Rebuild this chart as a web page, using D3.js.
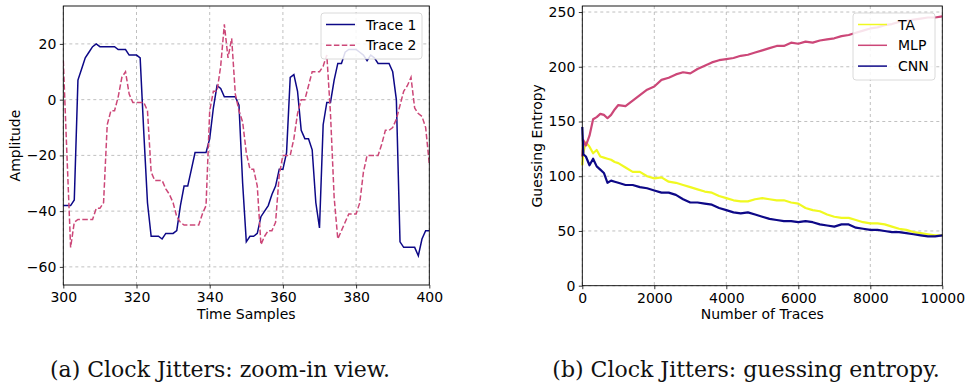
<!DOCTYPE html>
<html>
<head>
<meta charset="utf-8">
<script src="https://cdn.jsdelivr.net/npm/d3@7"></script>
<style>
  html, body { margin: 0; padding: 0; background: #fff; }
  svg { display: block; }
  text { font-family: "DejaVu Sans", sans-serif; }
</style>
</head>
<body>
<div id="chart"></div>
<script>
// two panels: zoom-in of two traces, and guessing entropy vs traces

// (a) sample values, sample index 300..400
const sampleStart = 300;
const trace1 = [
  -38, -38, -38, -36, 7, 11, 15, 17, 19, 20,
  19, 19, 19, 19, 19, 18, 18, 18, 16, 16,
  16, 15, -12, -37, -49, -49, -49, -50, -48, -48,
  -48, -47, -38, -31, -31, -25, -19, -19, -19, -19,
  -14, -3, 5, 4, 1, 1, 1, 1, -2, -30,
  -51, -49, -49, -48, -42, -40, -38, -34, -31, -25,
  -25, -19, 8, 9, 3, -11, -14, -14, -18, -37,
  -46, -9, -1, -1, 7, 13, 13, 17, 18, 18,
  18, 17, 16, 14, 16, 15, 13, 13, 13, 13,
  10, 0, -51, -53, -53, -53, -53, -56, -50, -47,
  -47
];
const trace2 = [
  14, -20, -53, -44, -43, -43, -43, -43, -43, -39,
  -39, -37, -9, -4, -4, 1, 8, 10, 2, -1,
  -1, -1, -1, -4, -26, -29, -29, -29, -32, -34,
  -37, -42, -44, -45, -45, -45, -45, -45, -41, -38,
  -4, 3, 3, 12, 27, 15, 22, 2, -4, -8,
  -19, -25, -25, -31, -52, -49, -47, -47, -44, -27,
  -20, -20, -20, -14, -5, 0, 0, 5, 10, 10,
  10, 12, 16, -5, -35, -50, -47, -44, -41, -41,
  -41, -37, -26, -20, -20, -20, -20, -16, -11, -11,
  -10, -7, -2, 3, 5, 8, -3, -5, -6, -10,
  -23
];
const ampTicks = [-60, -40, -20, 0, 20];
const sampleTicks = [300, 320, 340, 360, 380, 400];

// (b) guessing entropy
const nTraces = [
  0, 30, 100, 200, 300, 400, 500, 600, 700, 800, 900, 1000,
  1200, 1400, 1600, 1800, 2000, 2200, 2400, 2600, 2800, 3000,
  3200, 3400, 3600, 3800, 4000, 4200, 4400, 4600, 4800, 5000,
  5200, 5400, 5600, 5800, 6000, 6200, 6400, 6600, 6800, 7000,
  7200, 7400, 7600, 7800, 8000, 8200, 8400, 8600, 8800, 9000,
  9200, 9400, 9600, 9800, 10000
];
const geTA = [
  110, 122, 131, 127, 121, 124, 118, 117, 116, 115, 113, 112,
  108, 104, 104, 100, 98, 99, 95, 94, 92, 90,
  88, 86, 85, 82, 80, 78, 77, 77, 79, 80,
  79, 78, 78, 76, 75, 71, 69, 68, 65, 63,
  62, 62, 60, 58, 57, 57, 56, 54, 52, 51,
  49, 48, 47, 46, 46
];
const geMLP = [
  118, 133, 128, 137, 152, 154, 157, 156, 153, 156, 161, 165,
  164, 169, 174, 179, 182, 188, 190, 193, 195, 194,
  198, 201, 204, 206, 207, 208, 210, 211, 213, 215,
  217, 219, 219, 222, 221, 223, 222, 224, 225, 226,
  228, 229, 231, 233, 235, 236, 238, 239, 241, 242,
  243, 244, 245, 245, 246
];
const geCNN = [
  145, 120, 118, 110, 116, 109, 106, 103, 94, 96, 95, 94,
  92, 92, 90, 89, 87, 85, 85, 83, 79, 76,
  76, 75, 74, 71, 69, 67, 66, 67, 65, 63,
  61, 60, 59, 59, 58, 59, 58, 56, 55, 54,
  56, 56, 53, 52, 51, 51, 50, 49, 49, 48,
  47, 46, 45, 45, 46
];
const geTicks = [0, 50, 100, 150, 200, 250];
const traceTicks = [0, 2000, 4000, 6000, 8000, 10000];

const captions = ["(a) Clock Jitters: zoom-in view.", "(b) Clock Jitters: guessing entropy."];

// plasma-ish colours, like the original
const C_NAVY = "#0d0887";
const C_PINK = "#cc4778";
const C_YEL  = "#f0f921";

const W = 967, H = 385;
const FS = 14;

const svg = d3.select("#chart").append("svg")
  .attr("width", W)
  .attr("height", H);

function drawAxes(g, x, y, xt, yt, w, h) {
  // grid first, dashed
  g.append("g").selectAll("line.gx")
    .data(xt)
    .join("line")
    .attr("x1", d => x(d)).attr("x2", d => x(d))
    .attr("y1", 0).attr("y2", h)
    .attr("stroke", "#b0b0b0").attr("stroke-width", 0.8)
    .attr("stroke-dasharray", "3,3");
  g.append("g").selectAll("line.gy")
    .data(yt)
    .join("line")
    .attr("y1", d => y(d)).attr("y2", d => y(d))
    .attr("x1", 0).attr("x2", w)
    .attr("stroke", "#b0b0b0").attr("stroke-width", 0.8)
    .attr("stroke-dasharray", "3,3");
}

function finishAxes(g, x, y, xt, yt, w, h, xfmt) {
  const ax = g.append("g")
    .attr("transform", `translate(0,${h})`)
    .call(d3.axisBottom(x).tickValues(xt).tickSize(3.5).tickPadding(3.5).tickFormat(xfmt));
  const ay = g.append("g")
    .call(d3.axisLeft(y).tickValues(yt).tickSize(3.5).tickPadding(3.5)
      .tickFormat(d => d < 0 ? "\u2212" + Math.abs(d) : d));
  [ax, ay].forEach(a => {
    a.select(".domain").remove();
    a.selectAll("text")
      .attr("font-family", "DejaVu Sans")
      .attr("font-size", FS)
      .attr("fill", "#000");
    a.selectAll("line").attr("stroke", "#000").attr("stroke-width", 0.8);
  });
  // spines
  g.append("rect")
    .attr("x", 0).attr("y", 0)
    .attr("width", w).attr("height", h)
    .attr("fill", "none")
    .attr("stroke", "#000")
    .attr("stroke-width", 0.9);
}

function legend(g, x0, y0, bw, bh, items) {
  const lg = g.append("g").attr("transform", `translate(${x0},${y0})`);
  lg.append("rect")
    .attr("width", bw).attr("height", bh)
    .attr("rx", 3)
    .attr("fill", "#fff").attr("fill-opacity", 0.85)
    .attr("stroke", "#d0d0d0").attr("stroke-width", 0.8);
  items.forEach((it, i) => {
    const yy = 11.5 + i * 20.8;
    lg.append("line")
      .attr("x1", 5).attr("x2", 34)
      .attr("y1", yy).attr("y2", yy)
      .attr("stroke", it.color).attr("stroke-width", 1.5)
      .attr("stroke-dasharray", it.dash || null);
    lg.append("text")
      .attr("x", 45).attr("y", yy + 5)
      .attr("font-size", FS)
      .text(it.label);
  });
}

// ---- panel (a)
{
  const left = 63.3, top = 6, w = 366, h = 279;
  const g = svg.append("g").attr("transform", `translate(${left},${top})`);
  const x = d3.scaleLinear().domain([300, 400]).range([0, w]);
  const y = d3.scaleLinear().domain([-66.5, 33.6]).range([h, 0]);

  drawAxes(g, x, y, sampleTicks, ampTicks, w, h);

  const line = d3.line()
    .x((d, i) => x(sampleStart + i))
    .y(d => y(d));

  g.append("clipPath").attr("id", "clipA")
    .append("rect").attr("width", w).attr("height", h);

  g.append("path")
    .datum(trace1)
    .attr("clip-path", "url(#clipA)")
    .attr("d", line)
    .attr("fill", "none")
    .attr("stroke", C_NAVY)
    .attr("stroke-width", 1.5);

  g.append("path")
    .datum(trace2)
    .attr("clip-path", "url(#clipA)")
    .attr("d", line)
    .attr("fill", "none")
    .attr("stroke", C_PINK)
    .attr("stroke-width", 1.5)
    .attr("stroke-dasharray", "5.5,2.4");

  finishAxes(g, x, y, sampleTicks, ampTicks, w, h, d3.format("d"));

  legend(g, 321 - left, 13 - top, 101, 46, [
    { label: "Trace 1", color: C_NAVY },
    { label: "Trace 2", color: C_PINK, dash: "5.5,2.4" }
  ]);

  g.append("text")
    .attr("x", w / 2).attr("y", 319 - top)
    .attr("text-anchor", "middle")
    .attr("font-size", FS)
    .text("Time Samples");

  g.append("text")
    .attr("transform", `translate(${19.5 - left},${h / 2}) rotate(-90)`)
    .attr("text-anchor", "middle")
    .attr("font-size", FS)
    .text("Amplitude");
}

// ---- panel (b)
{
  const left = 582.3, top = 6, w = 360, h = 279.7;
  const g = svg.append("g").attr("transform", `translate(${left},${top})`);
  const x = d3.scaleLinear().domain([0, 10000]).range([0, w]);
  const y = d3.scaleLinear().domain([0, 255.5]).range([h, 0]);

  drawAxes(g, x, y, traceTicks, geTicks, w, h);

  const series = [
    { label: "TA",  vals: geTA,  color: C_YEL },
    { label: "MLP", vals: geMLP, color: C_PINK },
    { label: "CNN", vals: geCNN, color: C_NAVY }
  ];

  const line = d3.line()
    .x((d, i) => x(nTraces[i]))
    .y(d => y(d));

  series.forEach(s => {
    g.append("path")
      .datum(s.vals)
      .attr("d", line)
      .attr("fill", "none")
      .attr("stroke", s.color)
      .attr("stroke-width", 2.2)
      .attr("stroke-linejoin", "round");
  });

  finishAxes(g, x, y, traceTicks, geTicks, w, h, d3.format("d"));

  legend(g, 853 - left, 13 - top, 82, 67, series.map(s => ({ label: s.label, color: s.color })));

  g.append("text")
    .attr("x", w / 2).attr("y", 319 - top)
    .attr("text-anchor", "middle")
    .attr("font-size", FS)
    .text("Number of Traces");

  g.append("text")
    .attr("transform", `translate(${542 - left},${h / 2}) rotate(-90)`)
    .attr("text-anchor", "middle")
    .attr("font-size", FS)
    .text("Guessing Entropy");
}

// captions, serif like latex
svg.selectAll("text.cap")
  .data(captions)
  .join("text")
  .attr("class", "cap")
  .attr("x", (d, i) => i === 0 ? 220 : 746)
  .attr("y", 377)
  .attr("text-anchor", "middle")
  .style("font-family", "'DejaVu Serif', serif")
  .attr("font-size", 22)
  .attr("fill", "#111")
  .text(d => d);
</script>
</body>
</html>
